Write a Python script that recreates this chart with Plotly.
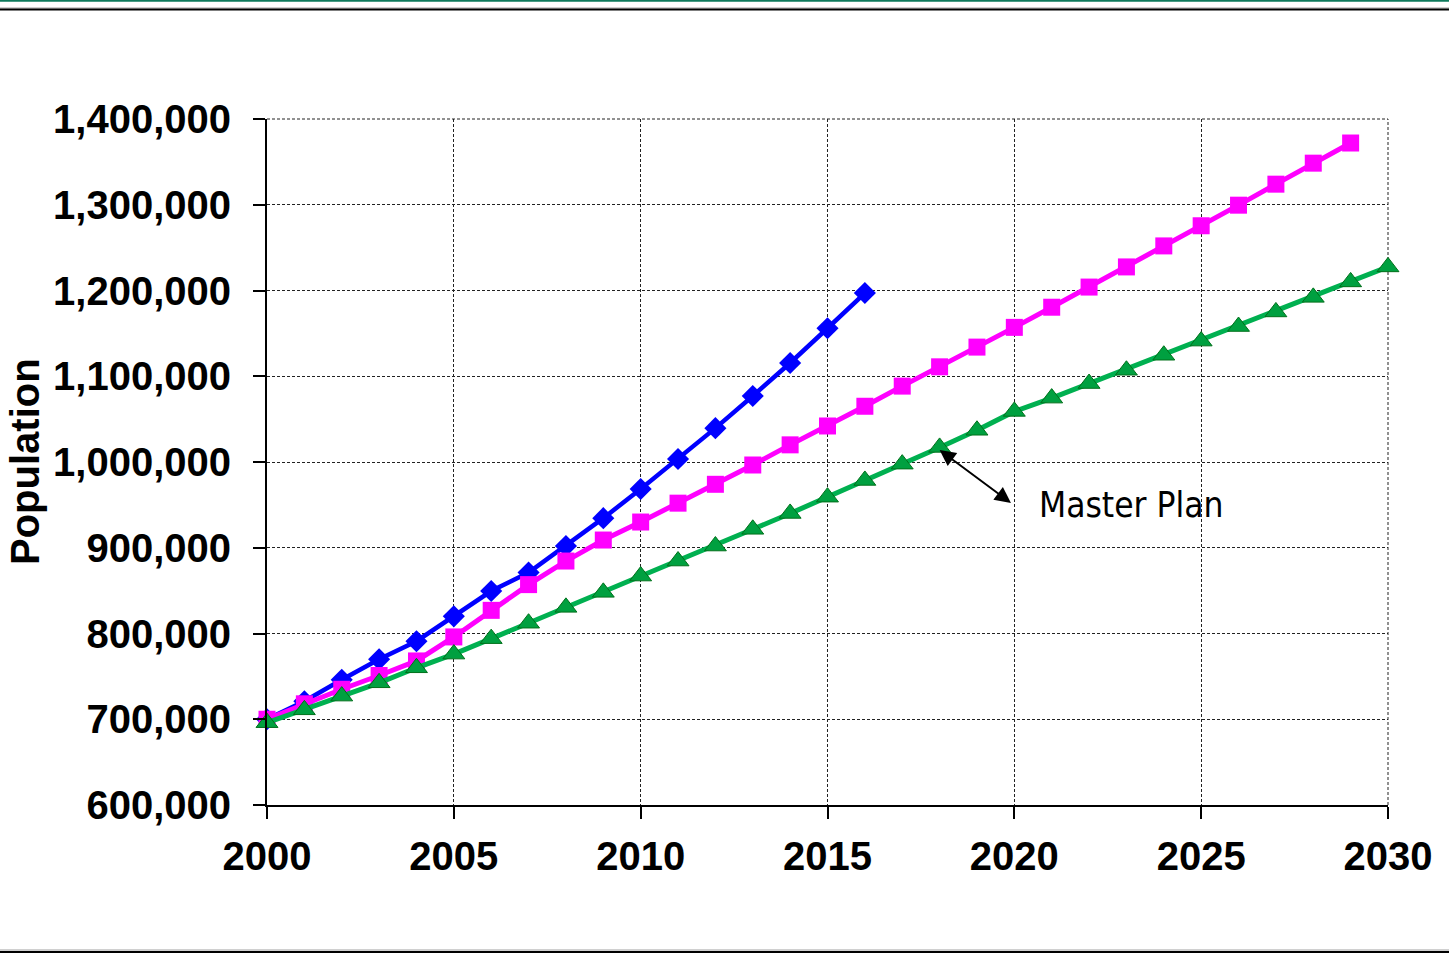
import plotly.graph_objects as go

years_blue = list(range(2000, 2017))
blue = [700000, 721000, 746000, 770000, 791000, 820000, 849500, 871000, 902000,
        934500, 968500, 1003500, 1039500, 1077000, 1115500, 1156000, 1197000]

years_mag = list(range(2000, 2030))
magenta = [700000, 718000, 735000, 751000, 768000, 796000, 827000, 857000, 884500,
           909000, 930000, 952000, 974000, 996500, 1020000, 1042000, 1065000, 1088500,
           1111000, 1134000, 1157000, 1180500, 1204000, 1227500, 1252000, 1275500,
           1299500, 1324000, 1348500, 1372000]

years_green = list(range(2000, 2031))
green = [696000, 711000, 727000, 742500, 760000, 776000, 794000, 812000, 830500,
         848000, 867000, 884500, 902000, 921500, 940000, 959000, 978500, 997500,
         1017000, 1037000, 1059000, 1074500, 1091500, 1107000, 1124500, 1141000,
         1158000, 1175000, 1192000, 1210000, 1227500]

x_ticks = [2000, 2005, 2010, 2015, 2020, 2025, 2030]
y_ticks = [600000, 700000, 800000, 900000, 1000000, 1100000, 1200000, 1300000, 1400000]

fig = go.Figure()
fig.add_trace(go.Scatter(x=years_blue, y=blue, mode="lines+markers",
                         line=dict(color="#0000FF", width=4.5),
                         marker=dict(symbol="diamond", size=17, color="#0000FF"),
                         cliponaxis=False, showlegend=False))
fig.add_trace(go.Scatter(x=years_mag, y=magenta, mode="lines+markers",
                         line=dict(color="#FF00FF", width=5),
                         marker=dict(symbol="square", size=17, color="#FF00FF"),
                         cliponaxis=False, showlegend=False))
fig.add_trace(go.Scatter(x=years_green, y=green, mode="lines+markers",
                         line=dict(color="#00B050", width=5),
                         marker=dict(symbol="triangle-up", size=19, color="#00A040",
                                     line=dict(color="#00701A", width=1)),
                         cliponaxis=False, showlegend=False))

tickfont = dict(family="Liberation Sans, Arial, sans-serif", size=40, color="black",
                weight="bold")
grid_style = dict(showgrid=True, gridcolor="#222222", griddash="3px,2px", gridwidth=1)
fig.update_xaxes(range=[2000, 2030], tickvals=x_ticks, tickfont=tickfont,
                 showline=True, linecolor="black", linewidth=2,
                 ticks="outside", ticklen=12, tickwidth=2, tickcolor="black",
                 ticklabelstandoff=3, zeroline=False, **grid_style)
fig.update_yaxes(range=[600000, 1400000], tickvals=y_ticks, tickformat=",d",
                 tickfont=tickfont,
                 showline=True, linecolor="black", linewidth=2,
                 ticks="outside", ticklen=12, tickwidth=2, tickcolor="black",
                 ticklabelstandoff=14, zeroline=False, **grid_style)

W, H = 1449, 955
L, R, T, B = 267, 61, 119, 150
pw, ph = W - L - R, H - T - B


def px_to_paper_y(py):
    return (H - B - py) / ph


x0p = -L / pw
x1p = (W - L) / pw
shapes = [
    # dashed top and right frame of the plot area
    dict(type="line", xref="paper", yref="paper", x0=0, x1=1, y0=1, y1=1,
         line=dict(color="#222222", width=1, dash="3px,2px"), layer="below"),
    dict(type="line", xref="paper", yref="paper", x0=1, x1=1, y0=0, y1=1,
         line=dict(color="#222222", width=1, dash="3px,2px"), layer="below"),
    # decorative page rules
    dict(type="line", xref="paper", yref="paper", x0=x0p, x1=x1p,
         y0=px_to_paper_y(0.8), y1=px_to_paper_y(0.8), line=dict(color="#0E7A5C", width=2)),
    dict(type="line", xref="paper", yref="paper", x0=x0p, x1=x1p,
         y0=px_to_paper_y(8), y1=px_to_paper_y(8), line=dict(color="#A0A0A0", width=1)),
    dict(type="line", xref="paper", yref="paper", x0=x0p, x1=x1p,
         y0=px_to_paper_y(9.5), y1=px_to_paper_y(9.5), line=dict(color="black", width=2)),
    dict(type="line", xref="paper", yref="paper", x0=x0p, x1=x1p,
         y0=px_to_paper_y(950), y1=px_to_paper_y(950), line=dict(color="#A0A0A0", width=1)),
    dict(type="line", xref="paper", yref="paper", x0=x0p, x1=x1p,
         y0=px_to_paper_y(952), y1=px_to_paper_y(952), line=dict(color="black", width=2)),
]

annotations = [
    dict(xref="paper", yref="paper", x=(25 - L) / pw, y=px_to_paper_y(462),
         text="<b>Population</b>", textangle=-90, showarrow=False,
         font=dict(family="Liberation Sans, Arial, sans-serif", size=40, color="black"),
         xanchor="center", yanchor="middle"),
    dict(xref="x", yref="y", x=2018.0, y=1014000, axref="x", ayref="y",
         ax=2019.95, ay=951000, text="", showarrow=True, arrowhead=2, startarrowhead=2,
         arrowside="end+start", arrowwidth=2, arrowsize=1.6, startarrowsize=1.6,
         arrowcolor="black"),
    dict(xref="x", yref="y", x=2020.6, y=950000, text="Master Plan", showarrow=False,
         xanchor="left", yanchor="middle",
         font=dict(family="DejaVu Sans Condensed, DejaVu Sans, sans-serif", size=35,
                   color="black")),
]

fig.update_layout(width=W, height=H, margin=dict(l=L, r=R, t=T, b=B),
                  plot_bgcolor="white", paper_bgcolor="white",
                  shapes=shapes, annotations=annotations, showlegend=False)

fig.write_html("out.html")
